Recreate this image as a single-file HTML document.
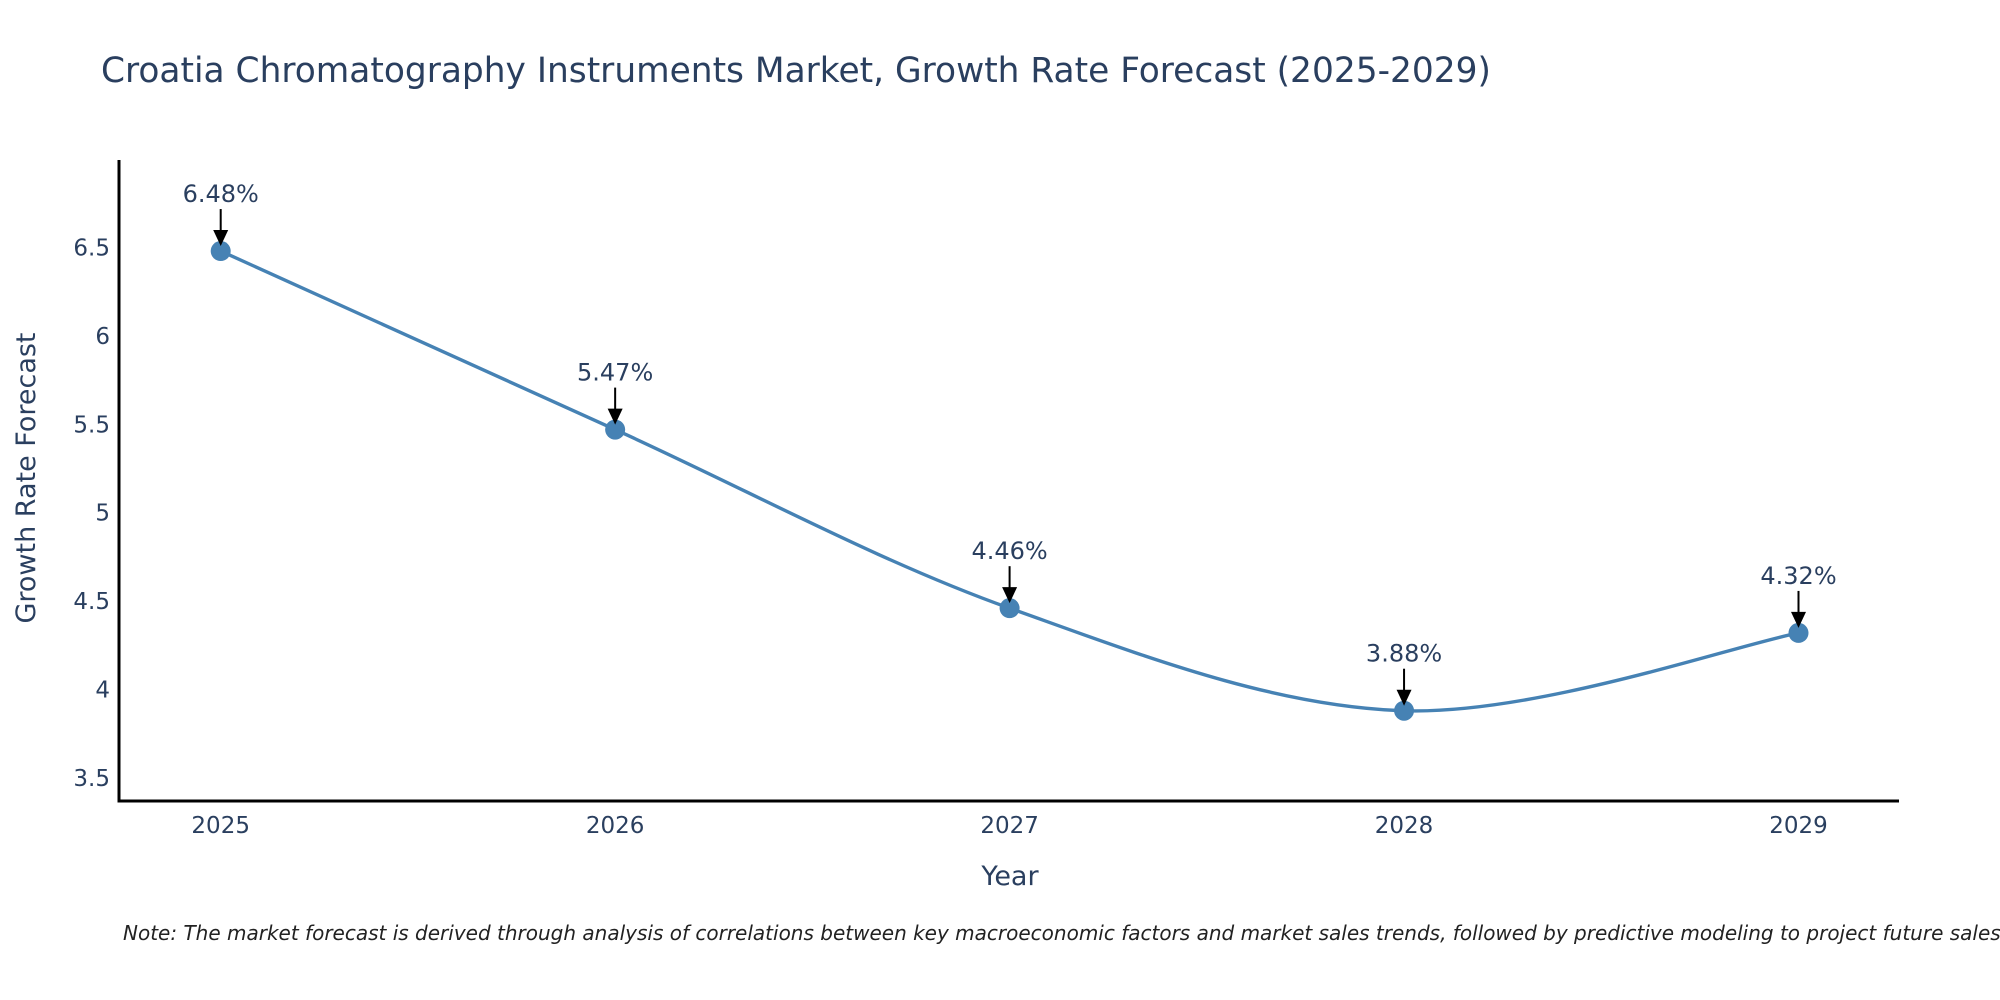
<!DOCTYPE html>
<html><head><meta charset="utf-8">
<style>
html,body{margin:0;padding:0;background:#fff;}
svg{display:block;font-family:"DejaVu Sans","Liberation Sans",sans-serif;}
</style></head>
<body>
<svg id="chart" width="2000" height="1000" viewBox="0 0 2000 1000">
  <text x="101" y="82" font-size="34.4" fill="#2a3f5f">Croatia Chromatography Instruments Market, Growth Rate Forecast (2025-2029)</text>
  <g id="grid"></g>
  <g id="series"></g>
  <line x1="119" y1="160" x2="119" y2="802" stroke="#000" stroke-width="3"/>
  <line x1="117.5" y1="801" x2="1899" y2="801" stroke="#000" stroke-width="3"/>
  <text x="1010" y="885" font-size="27" fill="#2a3f5f" text-anchor="middle">Year</text>
  <text transform="translate(35,478) rotate(-90)" font-size="27" fill="#2a3f5f" text-anchor="middle">Growth Rate Forecast</text>
  <text x="123" y="940" font-size="20" font-style="italic" fill="#222">Note: The market forecast is derived through analysis of correlations between key macroeconomic factors and market sales trends, followed by predictive modeling to project future sales.</text>
</svg>
<script>
const years = [2025, 2026, 2027, 2028, 2029];
const rates = [6.48, 5.47, 4.46, 3.88, 4.32];
const labels = ["6.48%", "5.47%", "4.46%", "3.88%", "4.32%"];
const yTicks = [3.5, 4, 4.5, 5, 5.5, 6, 6.5];
const yTickLabels = ["3.5", "4", "4.5", "5", "5.5", "6", "6.5"];

const NS = "http://www.w3.org/2000/svg";
const xs = v => 220.7 + (v - 2025) * 394.45;
const ys = v => 247.5 + (6.5 - v) * 176.8;
function mk(tag, attrs, parent) {
  const e = document.createElementNS(NS, tag);
  for (const k in attrs) e.setAttribute(k, attrs[k]);
  parent.appendChild(e);
  return e;
}
const grid = document.getElementById('grid');
const ser = document.getElementById('series');

yTicks.forEach((t, i) => {
  const tx = mk('text', {x: 110, y: ys(t) + 8, 'font-size': 23, fill: '#2a3f5f', 'text-anchor': 'end'}, grid);
  tx.textContent = yTickLabels[i];
  
  
});
years.forEach(y => {
  const tx = mk('text', {x: xs(y), y: 833, 'font-size': 23, fill: '#2a3f5f', 'text-anchor': 'middle'}, grid);
  tx.textContent = String(y);
  
  
});

const pts = years.map((y, i) => [xs(y), ys(rates[i])]);
let d = `M${pts[0][0]},${pts[0][1]}`;
const k = 1/6;
for (let i = 0; i < pts.length - 1; i++) {
  const p0 = pts[Math.max(0, i - 1)], p1 = pts[i], p2 = pts[i + 1], p3 = pts[Math.min(pts.length - 1, i + 2)];
  const c1 = [p1[0] + (p2[0] - p0[0]) * k, p1[1] + (p2[1] - p0[1]) * k];
  const c2 = [p2[0] - (p3[0] - p1[0]) * k, p2[1] - (p3[1] - p1[1]) * k];
  d += ` C${c1[0]},${c1[1]} ${c2[0]},${c2[1]} ${p2[0]},${p2[1]}`;
}
const line = mk('path', {d: d, fill: 'none', stroke: '#4682b4', 'stroke-width': 3.4}, ser);



pts.forEach((p, i) => {
  const c = mk('circle', {cx: p[0], cy: p[1], r: 10, fill: '#4682b4'}, ser);
  
  
  const a = mk('line', {x1: p[0], y1: p[1] - 42, x2: p[0], y2: p[1] - 18, stroke: '#000', 'stroke-width': 2}, ser);
  
  
  const h = mk('path', {d: `M${p[0]-7.5},${p[1]-21} L${p[0]+7.5},${p[1]-21} L${p[0]},${p[1]-5} Z`, fill: '#000'}, ser);
  
  
  const t = mk('text', {x: p[0], y: p[1] - 49, 'font-size': 24, fill: '#2a3f5f', 'text-anchor': 'middle'}, ser);
  t.textContent = labels[i];
  
  
});
</script>
</body></html>
